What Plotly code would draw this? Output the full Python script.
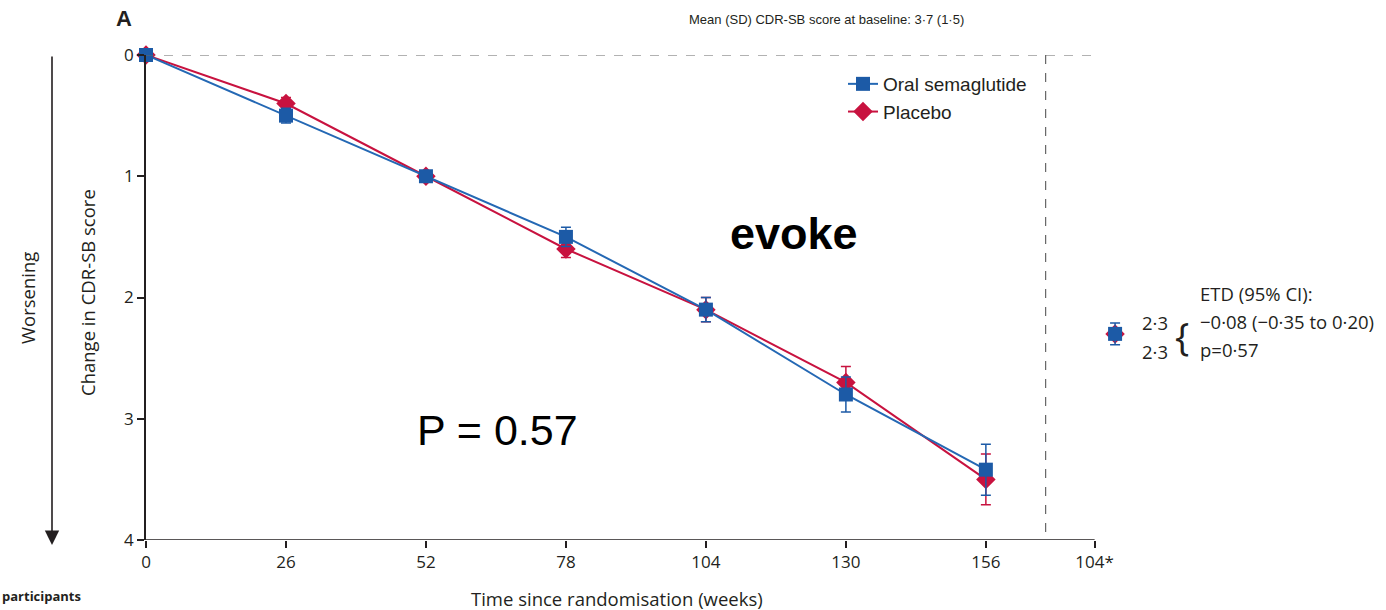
import plotly.graph_objects as go

weeks = [0, 26, 52, 78, 104, 130, 156]
sema = [0, 0.5, 1.0, 1.5, 2.1, 2.8, 3.42]
sema_err = [0.02, 0.06, 0.03, 0.08, 0.1, 0.145, 0.21]
placebo = [0, 0.4, 1.0, 1.6, 2.1, 2.7, 3.5]
placebo_err = [0.02, 0.05, 0.03, 0.07, 0.1, 0.13, 0.21]
extra_x = [180]
extra_sema = [2.3]
extra_sema_err = [0.09]
extra_placebo = [2.3]
tick_vals = [0, 26, 52, 78, 104, 130, 156, 176.2]
tick_text = ["0", "26", "52", "78", "104", "130", "156", "104*"]

BLUE = "#1c5aa6"
BLUE_LINE = "#2468b4"
RED = "#c8123f"
TXT = "#231f20"
SANS = "Liberation Sans, Arial, sans-serif"
MYR = "Open Sans, Noto Sans, sans-serif"

L, R, T, B = 146, 244, 55, 70
W, H = 1386, 610
PW, PH = W - L - R, H - T - B


def px(x):
    return (x - L) / PW


def py(y):
    return (H - B - y) / PH


fig = go.Figure()

fig.add_trace(go.Scatter(
    x=weeks, y=placebo, name="Placebo", mode="lines+markers",
    line=dict(color=RED, width=2),
    marker=dict(symbol="diamond", size=15, color=RED),
    error_y=dict(type="data", array=placebo_err, color=RED, thickness=1.5, width=5),
    cliponaxis=False,
))
fig.add_trace(go.Scatter(
    x=weeks, y=sema, name="Oral semaglutide", mode="lines+markers",
    line=dict(color=BLUE_LINE, width=2),
    marker=dict(symbol="square", size=14, color=BLUE),
    error_y=dict(type="data", array=sema_err, color=BLUE, thickness=1.5, width=5),
    cliponaxis=False,
))
fig.add_trace(go.Scatter(
    x=extra_x, y=extra_placebo, mode="markers", showlegend=False,
    marker=dict(symbol="diamond", size=15, color=RED), cliponaxis=False,
))
fig.add_trace(go.Scatter(
    x=extra_x, y=extra_sema, mode="markers", showlegend=False,
    marker=dict(symbol="square", size=14, color=BLUE),
    error_y=dict(type="data", array=extra_sema_err, color=BLUE, thickness=1.5, width=5),
    cliponaxis=False,
))

# axis line (x) only up to the 104* tick
fig.add_shape(type="line", xref="x", yref="y", x0=0, x1=176.2, y0=4, y1=4,
              line=dict(color=TXT, width=1.5))
# dashed reference lines
fig.add_shape(type="line", xref="x", yref="y", x0=0, x1=177, y0=0, y1=0,
              line=dict(color="#666", width=1.2, dash="dash"))
fig.add_shape(type="line", xref="x", yref="y", x0=167.1, x1=167.1, y0=0, y1=4,
              line=dict(color="#666", width=1.2, dash="dash"))

fig.update_xaxes(
    range=[0, 185], showline=False, showgrid=False, zeroline=False, automargin=False,
    tickmode="array", tickvals=tick_vals, ticktext=tick_text,
    ticks="outside", ticklen=7, tickwidth=1.5, tickcolor=TXT,
    tickfont=dict(family=MYR, size=17, color=TXT),
)
fig.update_yaxes(
    range=[4, 0], showline=True, linecolor=TXT, linewidth=1.5,
    showgrid=False, zeroline=False, automargin=False,
    tickmode="array", tickvals=[0, 1, 2, 3, 4],
    ticks="outside", ticklen=7, tickwidth=1.5, tickcolor=TXT,
    tickfont=dict(family=MYR, size=17, color=TXT),
)

ann = [
    dict(x=px(124), y=py(18), text="<b>A</b>", font=dict(family=SANS, size=22, color=TXT)),
    dict(x=px(826), y=py(19), text="Mean (SD) CDR-SB score at baseline: 3·7 (1·5)",
         font=dict(family=SANS, size=13, color=TXT)),
    dict(x=px(617), y=py(598), text="Time since randomisation (weeks)",
         font=dict(family=MYR, size=18.5, color=TXT)),
    dict(x=px(87), y=py(293), text="Change in CDR-SB score", textangle=-90,
         font=dict(family=MYR, size=18.5, color=TXT)),
    dict(x=px(27), y=py(298), text="Worsening", textangle=-90,
         font=dict(family=MYR, size=18.5, color=TXT)),
    dict(x=px(794), y=py(233), text="<b>evoke</b>",
         font=dict(family=SANS, size=45, color="#000")),
    dict(x=px(497), y=py(430), text="P = 0.57",
         font=dict(family=SANS, size=43, color="#000")),
    dict(x=px(1155), y=py(322), text="2·3", font=dict(family=MYR, size=18.5, color=TXT)),
    dict(x=px(1155), y=py(351), text="2·3", font=dict(family=MYR, size=18.5, color=TXT)),
    dict(x=px(1182), y=py(336), text="{", font=dict(family=MYR, size=38, color=TXT)),
    dict(x=px(1198), y=py(293), text="ETD (95% CI):", xanchor="left",
         font=dict(family=MYR, size=18.5, color=TXT)),
    dict(x=px(1198), y=py(321), text="−0·08 (−0·35 to 0·20)", xanchor="left",
         font=dict(family=MYR, size=18.5, color=TXT)),
    dict(x=px(1198), y=py(349), text="p=0·57", xanchor="left",
         font=dict(family=MYR, size=18.5, color=TXT)),
    dict(x=px(0), y=py(607), text="<b>participants</b>", xanchor="left", yanchor="bottom",
         font=dict(family=MYR, size=13, color=TXT)),
]
for a in ann:
    a.setdefault("xref", "paper")
    a.setdefault("yref", "paper")
    a.setdefault("showarrow", False)
    a.setdefault("xanchor", "center")
    a.setdefault("yanchor", "middle")
    fig.add_annotation(**a)

# worsening arrow
fig.add_annotation(xref="paper", yref="paper", x=px(52), y=py(545), ax=0, ay=-490,
                   text="", showarrow=True, arrowhead=2, arrowsize=1.8,
                   arrowwidth=1.6, arrowcolor=TXT)

fig.update_layout(
    width=W, height=H, margin=dict(l=L, r=R, t=T, b=B),
    paper_bgcolor="white", plot_bgcolor="white",
    legend=dict(x=px(843), y=py(65), xanchor="left", yanchor="top",
                traceorder="reversed", bgcolor="rgba(0,0,0,0)",
                font=dict(family=SANS, size=19, color=TXT),
                itemwidth=30, tracegroupgap=0),
    showlegend=True,
)

fig.write_html("out.html", config={"displayModeBar": False},
               post_script=["document.body.style.margin='0';document.body.style.overflow='hidden';"])
